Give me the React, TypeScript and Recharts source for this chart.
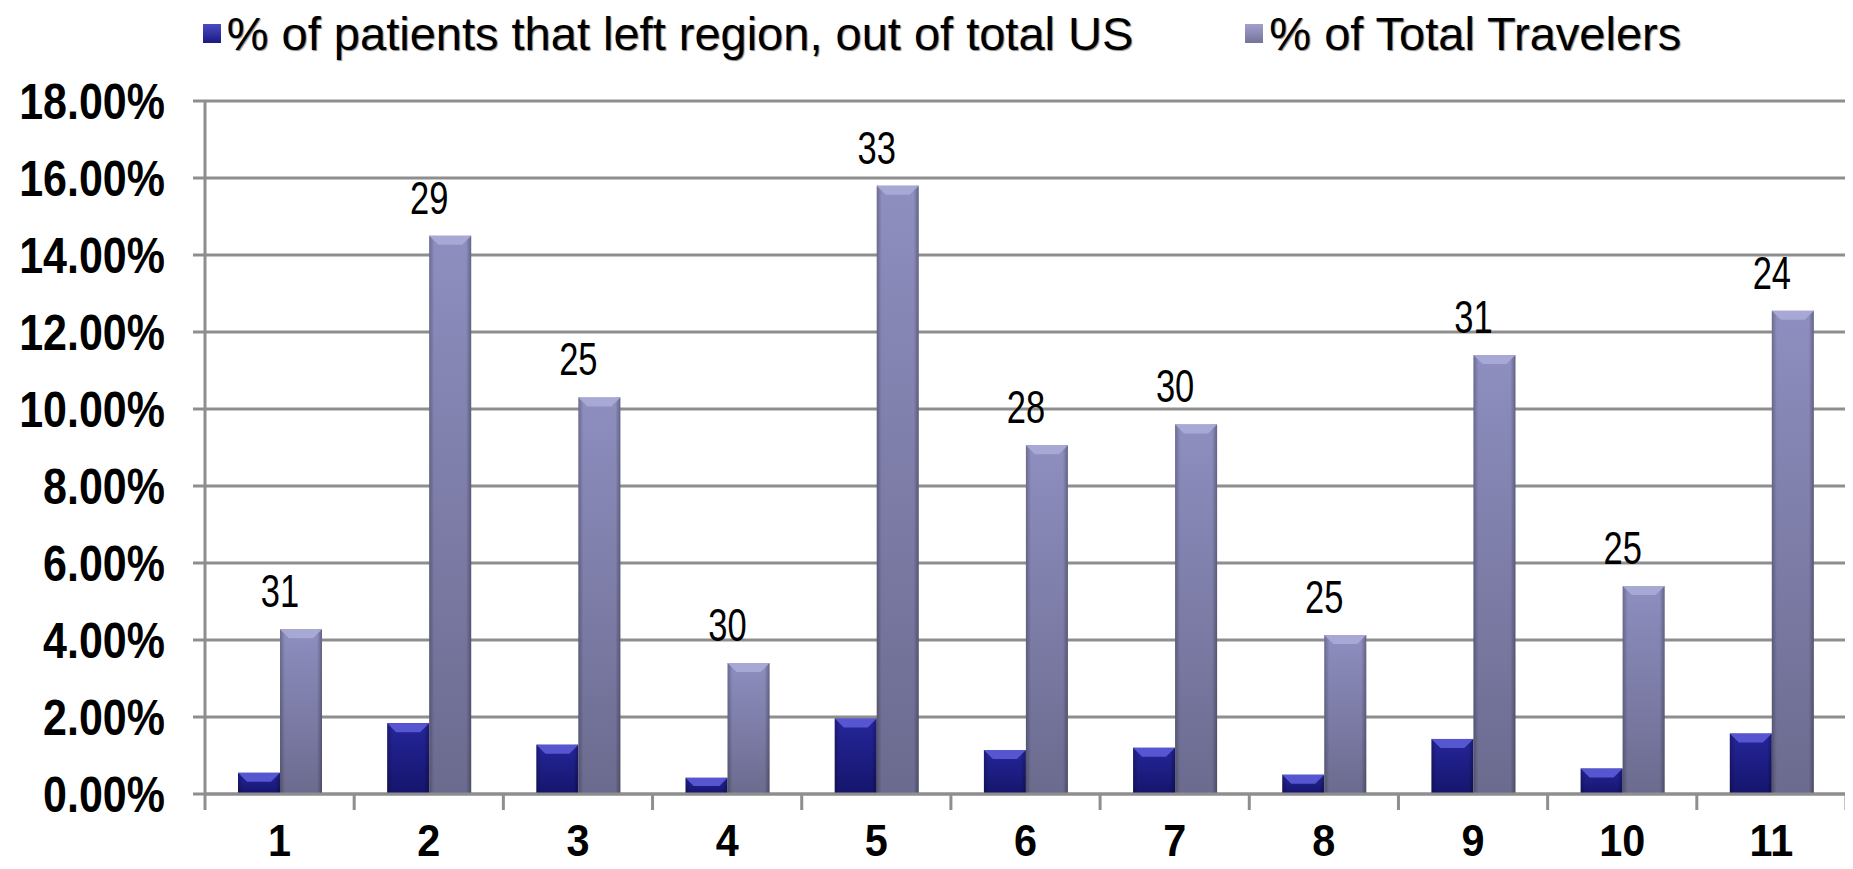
import React from "react"
import {
  BarChart, Bar, XAxis, YAxis, CartesianGrid, Legend, LabelList,
} from "recharts"

const REGIONS = ["1", "2", "3", "4", "5", "6", "7", "8", "9", "10", "11"]
const LEFT_REGION = [0.55, 1.84, 1.28, 0.42, 1.96, 1.14, 1.2, 0.5, 1.43, 0.66, 1.57]
const TOTAL_TRAVELERS = [4.28, 14.5, 10.3, 3.4, 15.8, 9.06, 9.6, 4.13, 11.4, 5.4, 12.55]
const BAR_LABELS = [31, 29, 25, 30, 33, 28, 30, 25, 31, 25, 24]
const Y_TICKS = [0, 2, 4, 6, 8, 10, 12, 14, 16, 18]

const SERIES = [
  { key: "left", name: "% of patients that left region, out of total US", cap: "#5656d0", swatch: "linear-gradient(#4b4bc4, #1a1a80)" },
  { key: "total", name: "% of Total Travelers", cap: "#a8a8d4", swatch: "linear-gradient(#a0a0cc, #74749a)" },
]

const data = REGIONS.map((name, i) => ({
  name,
  left: LEFT_REGION[i],
  total: TOTAL_TRAVELERS[i],
  count: BAR_LABELS[i],
}))

const FONT = "'Liberation Sans', Arial, sans-serif"
const GRID = "#8e8e8e"

// bevelled bar like the old excel look
function BevelBar(props: any) {
  const { x, y, width, height, grad, cap } = props
  if (!height || height <= 0) return null
  const b = Math.min(9, height / 2)
  return (
    <g>
      <rect x={x} y={y} width={width} height={height} fill={`url(#${grad})`} />
      <rect x={x} y={y} width={width} height={height} fill="url(#gEdge)" />
      <polygon
        points={`${x},${y} ${x + width},${y} ${x + width - b},${y + b} ${x + b},${y + b}`}
        fill={cap}
      />
    </g>
  )
}

// condensed text: no narrow font installed, so squeeze horizontally
function Squeezed({ x, y, text, size, sx, anchor, dy, weight }: any) {
  return (
    <text
      transform={`translate(${x},${y}) scale(${sx},1)`}
      textAnchor={anchor}
      dy={dy}
      fontFamily={FONT}
      fontSize={size}
      fontWeight={weight}
      fill="#000"
    >
      {text}
    </text>
  )
}

const YTick = ({ x, y, payload }: any) => (
  <Squeezed x={x} y={y} text={`${Number(payload.value).toFixed(2)}%`} size={50} sx={0.86} anchor="end" dy="0.36em" weight="bold" />
)

// excel puts the ticks between categories, so draw them at the band edges
const XTick = ({ x, y, payload, index, visibleTicksCount }: any) => {
  const half = payload.offset || 0
  const last = index === visibleTicksCount - 1
  return (
    <g>
      <line x1={x - half} x2={x - half} y1={y} y2={y + 16} stroke={GRID} strokeWidth={3} />
      {last && <line x1={x + half} x2={x + half} y1={y} y2={y + 16} stroke={GRID} strokeWidth={3} />}
      <Squeezed x={x} y={y + 30} text={payload.value} size={45} sx={0.92} anchor="middle" dy="0.71em" weight="bold" />
    </g>
  )
}

// label sits over the middle of the category (left edge of the second bar)
const CountLabel = ({ x, y, value }: any) => (
  <Squeezed x={x} y={y - 22} text={value} size={46} sx={0.75} anchor="middle" dy="0" weight="normal" />
)

function LegendContent() {
  return (
    <div style={{ display: "flex", justifyContent: "center", gap: 112, paddingLeft: 30, fontFamily: FONT, fontSize: 47, color: "#000", height: 50, alignItems: "center", textShadow: "1px 1px 1px #888" }}>
      {SERIES.map((s) => (
        <div key={s.key} style={{ display: "flex", alignItems: "center", gap: 6 }}>
          <span style={{ width: 18, height: 19, display: "inline-block", background: s.swatch }} />
          <span>{s.name}</span>
        </div>
      ))}
    </div>
  )
}

export default function App() {
  return (
    <div style={{ width: 1845, height: 861, background: "#fff" }}>
      <BarChart
        width={1845}
        height={861}
        data={data}
        margin={{ top: 0, right: 7, left: 0, bottom: 0 }}
        barGap={0}
        barSize={42}
      >
        <defs>
          <linearGradient id="gDark" x1="0" y1="0" x2="0" y2="1">
            <stop offset="0%" stopColor="#25259a" />
            <stop offset="100%" stopColor="#15156c" />
          </linearGradient>
          <linearGradient id="gLight" x1="0" y1="0" x2="0" y2="1">
            <stop offset="0%" stopColor="#8e8ec0" />
            <stop offset="100%" stopColor="#6b6b8f" />
          </linearGradient>
          <linearGradient id="gEdge" x1="0" y1="0" x2="1" y2="0">
            <stop offset="0%" stopColor="#000" stopOpacity={0.25} />
            <stop offset="12%" stopColor="#000" stopOpacity={0} />
            <stop offset="88%" stopColor="#000" stopOpacity={0} />
            <stop offset="100%" stopColor="#000" stopOpacity={0.3} />
          </linearGradient>
        </defs>
        <Legend verticalAlign="top" height={93} content={<LegendContent />} />
        <CartesianGrid vertical={false} stroke={GRID} strokeWidth={3} />
        <XAxis
          dataKey="name"
          axisLine={{ stroke: GRID, strokeWidth: 3 }}
          tickLine={false}
          tickSize={0}
          tickMargin={0}
          height={75}
          tick={<XTick />}
          interval={0}
        />
        <YAxis
          domain={[0, 18]}
          ticks={Y_TICKS}
          width={197}
          tickSize={12}
          tickMargin={28}
          axisLine={{ stroke: GRID, strokeWidth: 3 }}
          tickLine={{ stroke: GRID, strokeWidth: 3 }}
          tick={<YTick />}
        />
        <Bar
          dataKey="left"
          name={SERIES[0].name}
          isAnimationActive={false}
          shape={(p: any) => <BevelBar {...p} grad="gDark" cap={SERIES[0].cap} />}
        />
        <Bar
          dataKey="total"
          name={SERIES[1].name}
          isAnimationActive={false}
          shape={(p: any) => <BevelBar {...p} grad="gLight" cap={SERIES[1].cap} />}
        >
          <LabelList dataKey="count" content={<CountLabel />} />
        </Bar>
      </BarChart>
    </div>
  )
}
